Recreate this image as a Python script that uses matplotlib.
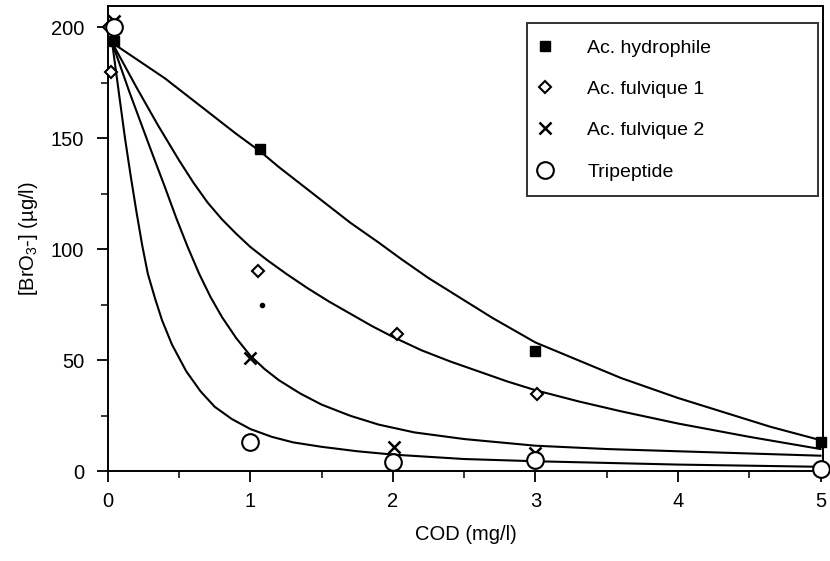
import matplotlib
matplotlib.use("Agg")
import matplotlib.pyplot as plt
from matplotlib.ticker import MultipleLocator

plt.rcParams['font.family'] = ['Liberation Sans', 'DejaVu Sans']
plt.rcParams['font.size'] = 14.5
plt.rcParams['mathtext.fontset'] = 'custom'
plt.rcParams['mathtext.rm'] = 'Liberation Sans'

# points mesures
hydro_x = [0.04, 1.07, 3.0, 5.0]
hydro_y = [194, 145, 54, 13]
fulv1_x = [0.01, 0.02, 1.05, 2.03, 3.01]
fulv1_y = [200, 180, 90, 62, 35]
fulv2_x = [0.04, 1.0, 2.01, 3.0]
fulv2_y = [203, 51, 11, 8]
tri_x = [0.04, 1.0, 2.0, 3.0, 5.0]
tri_y = [200, 13, 4, 5, 1]
stray_x = [1.08]
stray_y = [75]

# courbes d'ajustement
fitA_x = [0.03, 0.4, 0.66, 0.9, 1.07, 1.2, 1.36, 1.5, 1.7, 1.9, 2.06, 2.25, 2.45, 2.7, 3.0,
          3.3, 3.6, 4.0, 4.3, 4.65, 5.0]
fitA_y = [193, 177, 164, 152, 144, 137, 129, 122, 112, 103, 95.5, 87, 79, 69, 58,
          50, 42, 33, 27, 20, 14]
fitB_x = [0.03, 0.2, 0.35, 0.5, 0.6, 0.7, 0.8, 0.9, 1.0, 1.12, 1.25, 1.4, 1.55, 1.7, 1.85,
          2.0, 2.2, 2.4, 2.6, 2.8, 3.0, 3.3, 3.6, 4.0, 4.5, 5.0]
fitB_y = [193, 173, 156, 140, 130, 121, 113.5, 107, 101, 95, 89, 82.5, 76.5, 71, 65.5,
          60.5, 54.5, 49.5, 45, 40.5, 36.5, 31.5, 27, 21.5, 15.5, 10]
fitC_x = [0.03, 0.15, 0.3, 0.4, 0.48, 0.56, 0.64, 0.72, 0.8, 0.9, 1.0, 1.1, 1.2, 1.35, 1.5,
          1.7, 1.9, 2.15, 2.5, 3.0, 3.5, 4.0, 4.5, 5.0]
fitC_y = [193, 171, 145, 128, 114, 101, 89, 78.5, 69.5, 60, 52, 46, 41, 35, 30,
          25, 21, 17.5, 14.5, 11.5, 10, 9, 8, 7]
fitD_x = [0.03, 0.08, 0.12, 0.16, 0.2, 0.24, 0.28, 0.33, 0.38, 0.45, 0.55, 0.65, 0.75, 0.87,
          1.0, 1.15, 1.3, 1.5, 1.75, 2.0, 2.5, 3.0, 4.0, 5.0]
fitD_y = [193, 169, 150, 133, 117, 102, 89, 78, 68, 57, 45, 36, 29, 23.5,
          19, 15.5, 13, 11, 9, 7.5, 5.5, 4.5, 3, 2]

fig = plt.figure(figsize=(8.3, 5.61), dpi=100)
ax = fig.add_axes([0.130, 0.160, 0.862, 0.829])

for fx, fy in [(fitA_x, fitA_y), (fitB_x, fitB_y), (fitC_x, fitC_y), (fitD_x, fitD_y)]:
    ax.plot(fx, fy, color='black', lw=1.5, zorder=2, clip_on=False)

ax.plot(hydro_x, hydro_y, ls='none', marker='s', ms=7, mfc='black', mec='black',
        label='Ac. hydrophile', zorder=3, clip_on=False)
ax.plot(fulv1_x, fulv1_y, ls='none', marker='D', ms=6, mfc='white', mec='black', mew=1.5,
        label='Ac. fulvique 1', zorder=3, clip_on=False)
ax.plot(fulv2_x, fulv2_y, ls='none', marker='x', ms=9, mec='black', mew=1.8,
        label='Ac. fulvique 2', zorder=3, clip_on=False)
ax.plot(tri_x, tri_y, ls='none', marker='o', ms=12, mfc='white', mec='black', mew=1.5,
        label='Tripeptide', zorder=3, clip_on=False)
ax.plot(stray_x, stray_y, ls='none', marker='o', ms=3, color='black', zorder=3)

ax.set_xlim(0, 5.02)
ax.set_ylim(0, 209.5)
ax.xaxis.set_major_locator(MultipleLocator(1))
ax.xaxis.set_minor_locator(MultipleLocator(0.5))
ax.yaxis.set_major_locator(MultipleLocator(50))
ax.yaxis.set_minor_locator(MultipleLocator(25))
ax.tick_params(which='major', direction='out', length=8, width=1.3, color='black')
ax.tick_params(which='minor', direction='out', length=5, width=1.1, color='black')
ax.tick_params(axis='x', which='major', pad=7)
ax.tick_params(axis='y', which='major', pad=9)
for sp in ax.spines.values():
    sp.set_linewidth(1.4)

ax.set_xlabel('COD (mg/l)', labelpad=10)
ax.set_ylabel('[BrO$_3$-] (µg/l)', labelpad=8)

leg = ax.legend(loc='upper left', bbox_to_anchor=(0.586, 0.963, 0.406, 0.0),
                mode='expand', borderaxespad=0, frameon=True, fancybox=False,
                edgecolor='black', numpoints=1, handlelength=0.2,
                handletextpad=2.1, borderpad=0.8, labelspacing=1.22, fontsize=14)
leg.get_frame().set_linewidth(1.4)

plt.savefig('out.png', dpi=100)
